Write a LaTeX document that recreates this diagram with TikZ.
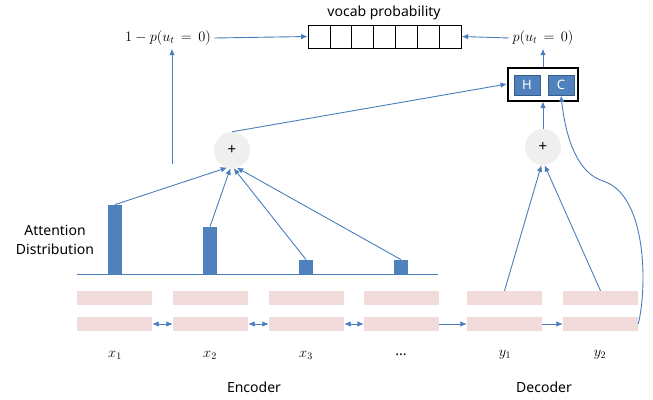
\documentclass[tikz,border=0pt]{standalone}
\usepackage{amsmath}
\usepackage{fontspec}
\setmainfont{Noto Sans}
\usetikzlibrary{arrows.meta,positioning,calc}

\definecolor{lineblue}{HTML}{4A7EBB}
\definecolor{barblue}{HTML}{4F81BD}
\definecolor{boxedge}{HTML}{385D8A}
\definecolor{pinkcell}{HTML}{F2DCDB}
\definecolor{plusgray}{HTML}{EFEFEF}

\tikzset{
  link/.style={draw=lineblue, line width=0.9pt, -{Latex[length=6.5pt,width=5.5pt]}},
  dlink/.style={draw=lineblue, line width=0.9pt, {Latex[length=6.5pt,width=5.5pt]}-{Latex[length=6.5pt,width=5.5pt]}},
  plain/.style={draw=lineblue, line width=0.9pt},
  cell/.style={fill=pinkcell, minimum width=75pt, minimum height=14pt, inner sep=0pt},
  vcell/.style={draw=black, line width=0.8pt, minimum width=21.9pt, minimum height=23pt, inner sep=0pt},
  bar/.style={fill=barblue, minimum width=14pt, inner sep=0pt, anchor=south},
  plus/.style={circle, fill=plusgray, minimum size=36pt, inner sep=0pt, font=\fontsize{15}{17}\selectfont},
  gatebox/.style={fill=barblue, draw=boxedge, line width=1pt, minimum width=26pt, minimum height=20pt,
    inner sep=0pt, text=white, font=\fontsize{13}{15}\selectfont},
  lbl/.style={font=\fontsize{14}{17}\selectfont},
  mlbl/.style={font=\fontsize{14.4}{17}\selectfont},
}

\begin{document}
\begin{tikzpicture}[x=1pt,y=-1pt]
  \useasboundingbox (0,0) rectangle (653,399);

  % vocab distribution
  \node[lbl] (vocab) at (384,13) {vocab probability};
  \foreach \i in {1,...,7}
    \node[vcell] (v\i) at ({308+21.9*(\i-0.5)},36.5) {};

  \node[mlbl] (pl) at (168,38) {$1-p(u_t\,=\,0)$};
  \node[mlbl] (pr) at (543,38) {$p(u_t\,=\,0)$};
  \draw[link] (pl.east) -- (v1.west);
  \draw[link] (pr.west) -- (v7.east);

  % gate input
  \node[draw=black, line width=2pt, minimum width=70pt, minimum height=33pt] (hc) at (543,84) {};
  \node[gatebox] (h) at (527,85) {H};
  \node[gatebox] (c) at (561,85) {C};
  \draw[link] (hc.north) -- (pr.south);

  % sums
  \node[plus] (pa) at (232,150) {+};
  \node[plus] (pb) at (543,147) {+};
  \draw[link] (pa.north) -- (hc.west);
  \draw[link] (pb.north) -- (hc.south);
  \coordinate (gate) at (172,164);
  \draw[link] (gate) -- (gate |- pl.south);

  % attention bars
  \coordinate (base1) at (77,274);
  \coordinate (base2) at (438,274);
  \draw[plain] (base1) -- (base2);
  \node[bar, minimum height=69pt] (b1) at (115,274) {};
  \node[bar, minimum height=47pt] (b2) at (210,274) {};
  \node[bar, minimum height=14pt] (b3) at (306,274) {};
  \node[bar, minimum height=14pt] (b4) at (401,274) {};
  \node[font=\fontsize{14}{19}\selectfont, align=center] (attn) at (55,240) {Attention\\Distribution};

  \draw[link] (b1.north) -- (pa.-105);
  \draw[link] (b2.north) -- (pa.-95);
  \draw[link] (b3.north) -- (pa.-85);
  \draw[link] (b4.north) -- (pa.-75);

  % encoder / decoder cells
  \foreach \i/\x in {1/114.5,2/210.5,3/306.5,4/401.5} {
    \node[cell] (et\i) at (\x,298) {};
    \node[cell] (eb\i) at (\x,324) {};
  }
  \foreach \i/\x in {1/504.5,2/600.5} {
    \node[cell] (dt\i) at (\x,298) {};
    \node[cell] (db\i) at (\x,324) {};
  }
  \draw[dlink] (eb1.east) -- (eb2.west);
  \draw[dlink] (eb2.east) -- (eb3.west);
  \draw[dlink] (eb3.east) -- (eb4.west);
  \draw[link] (eb4.east) -- (db1.west);
  \draw[link] (db1.east) -- (db2.west);

  \draw[link] (dt1.north) -- (pb.-95);
  \draw[link] (dt2.north) -- (pb.-85);
  \draw[link] (db2.east) .. controls (647,290) and (648,195) .. (603,181)
    .. controls (578,173) and (566,140) .. (c.south);

  % labels
  \node[mlbl] (x1) at (115,355) {$x_1$};
  \node[mlbl] (x2) at (210,355) {$x_2$};
  \node[mlbl] (x3) at (306,355) {$x_3$};
  \node[lbl] (xd) at (401,355) {...};
  \node[mlbl] (y1) at (505,355) {$y_1$};
  \node[mlbl] (y2) at (600,355) {$y_2$};
  \node[lbl] (enc) at (254,387) {Encoder};
  \node[lbl] (dec) at (544,387) {Decoder};
\end{tikzpicture}
\end{document}
